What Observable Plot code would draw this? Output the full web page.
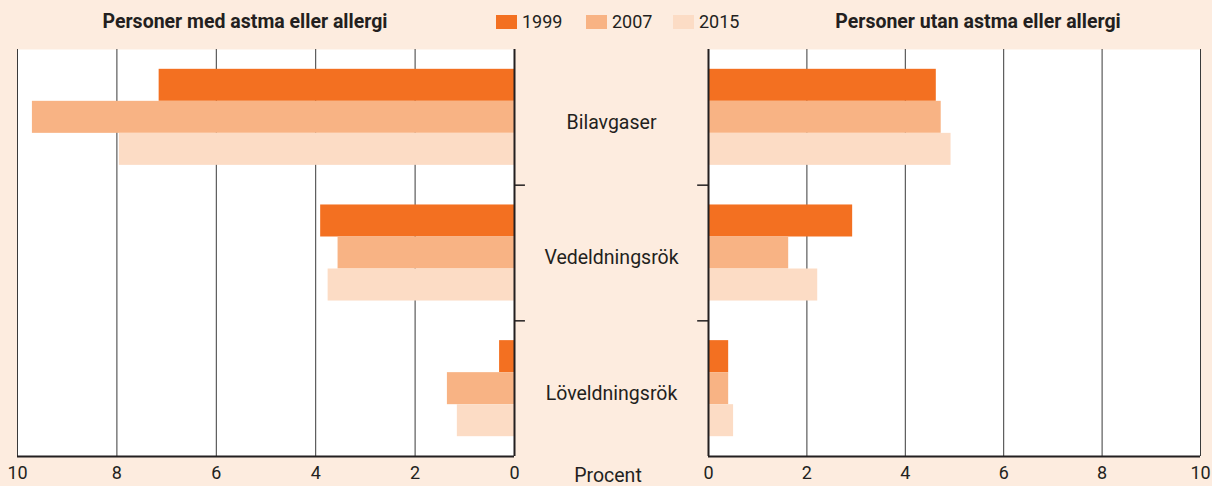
<!DOCTYPE html>
<html>
<head>
<meta charset="utf-8">
<script src="https://cdn.jsdelivr.net/npm/d3@7"></script>
<script src="https://cdn.jsdelivr.net/npm/@observablehq/plot@0.6"></script>
<style>
  html, body { margin: 0; padding: 0; background: #fdecdf; }
  #root { position: relative; width: 1212px; height: 486px; background: #fdecdf; overflow: hidden;
          font-family: Roboto, "Noto Sans", sans-serif; color: #231f20; }
  .title { position: absolute; top: 10px; font-weight: bold; font-size: 19.5px; transform: translateX(-50%); white-space: nowrap; }
  .leg { position: absolute; top: 11px; font-size: 18px; display: flex; align-items: center; white-space: nowrap; }
  .sw { display: inline-block; width: 21px; height: 14px; margin-right: 5px; }
  .procent { position: absolute; top: 464px; left: 608px; transform: translateX(-50%); font-size: 19.5px; }
  .panel { position: absolute; top: 0; }
</style>
</head>
<body>
<div id="root"></div>
<script>
// ---- data ----
const categories = ["Bilavgaser", "Vedeldningsrök", "Löveldningsrök"];
const years = ["1999", "2007", "2015"];
const withAllergy1999 = [7.15, 3.9, 0.3];
const withAllergy2007 = [9.7, 3.55, 1.35];
const withAllergy2015 = [7.95, 3.75, 1.15];
const withoutAllergy1999 = [4.63, 2.93, 0.41];
const withoutAllergy2007 = [4.73, 1.63, 0.41];
const withoutAllergy2015 = [4.93, 2.22, 0.51];
const xTicks = [0, 2, 4, 6, 8, 10];
const leftTitle = "Personer med astma eller allergi";
const rightTitle = "Personer utan astma eller allergi";
const unitLabel = "Procent";
const colors = ["#f37021", "#f8b384", "#fcdcc5"];

// ---- build tables ----
function rows(series) {
  const out = [];
  categories.forEach((cat, i) => {
    years.forEach((year, k) => out.push({cat, i, year, k, value: series[k][i]}));
  });
  return out;
}
const withRows = rows([withAllergy1999, withAllergy2007, withAllergy2015]);
const withoutRows = rows([withoutAllergy1999, withoutAllergy2007, withoutAllergy2015]);

const barH = 0.236; // fraction of a category slot per bar
const y1 = d => d.i - 1.5 * barH + d.k * barH;
const y2 = d => d.i - 1.5 * barH + (d.k + 1) * barH;

const ink = "#231f20";
const font = 'Roboto, "Noto Sans", sans-serif';

function panel(data, opts) {
  return Plot.plot({
    width: opts.width,
    height: 486,
    marginLeft: opts.marginLeft,
    marginRight: opts.marginRight,
    marginTop: 49,
    marginBottom: 30,
    style: {background: "transparent", fontFamily: font, fontSize: "17px", color: ink, overflow: "visible"},
    x: {domain: [0, 10], reverse: opts.reverse},
    y: {domain: [-0.5, 2.5], reverse: true, axis: null},
    color: {domain: years, range: colors},
    marks: [
      Plot.frame({fill: "white", stroke: null}),
      Plot.gridX(xTicks, {stroke: "#3a3a3a", strokeOpacity: 1, strokeWidth: 1}),
      Plot.rect(data, {x1: 0, x2: "value", y1, y2, fill: "year"}),
      Plot.ruleX([0], {stroke: ink, strokeWidth: 2}),
      Plot.ruleY([2.5], {x1: 0, x2: 10, stroke: ink, strokeWidth: 2}),
      Plot.ruleY([0.5, 1.5], {x1: 0, x2: -0.22, stroke: ink, strokeWidth: 1.5}),
      Plot.axisX(xTicks, {tickSize: 0, tickPadding: 10, fontSize: 18, label: null}),
      ...(opts.labels ? [Plot.axisY([0, 1, 2], {anchor: "right", tickSize: 0, tickPadding: 0, tickFormat: i => categories[i],
          textAnchor: "middle", dx: 97, dy: 5, fontSize: 19.5, label: null})] : [])
    ]
  });
}

const root = document.getElementById("root");

const left = panel(withRows, {width: 700, marginLeft: 17, marginRight: 186, reverse: true, labels: true});
left.classList.add("panel"); left.style.left = "0px";
const right = panel(withoutRows, {width: 606, marginLeft: 102, marginRight: 12, reverse: false, labels: false});
right.classList.add("panel"); right.style.left = "606px";
root.appendChild(right);
root.appendChild(left);

// titles
const t1 = document.createElement("div"); t1.className = "title"; t1.style.left = "245px"; t1.textContent = leftTitle; root.appendChild(t1);
const t2 = document.createElement("div"); t2.className = "title"; t2.style.left = "978px"; t2.textContent = rightTitle; root.appendChild(t2);

// legend
const legLeft = [496, 586, 673];
years.forEach((y, k) => {
  const d = document.createElement("div"); d.className = "leg"; d.style.left = legLeft[k] + "px";
  const s = document.createElement("span"); s.className = "sw"; s.style.background = colors[k];
  d.appendChild(s); d.appendChild(document.createTextNode(y));
  root.appendChild(d);
});

const p = document.createElement("div"); p.className = "procent"; p.textContent = unitLabel; root.appendChild(p);
</script>
</body>
</html>
